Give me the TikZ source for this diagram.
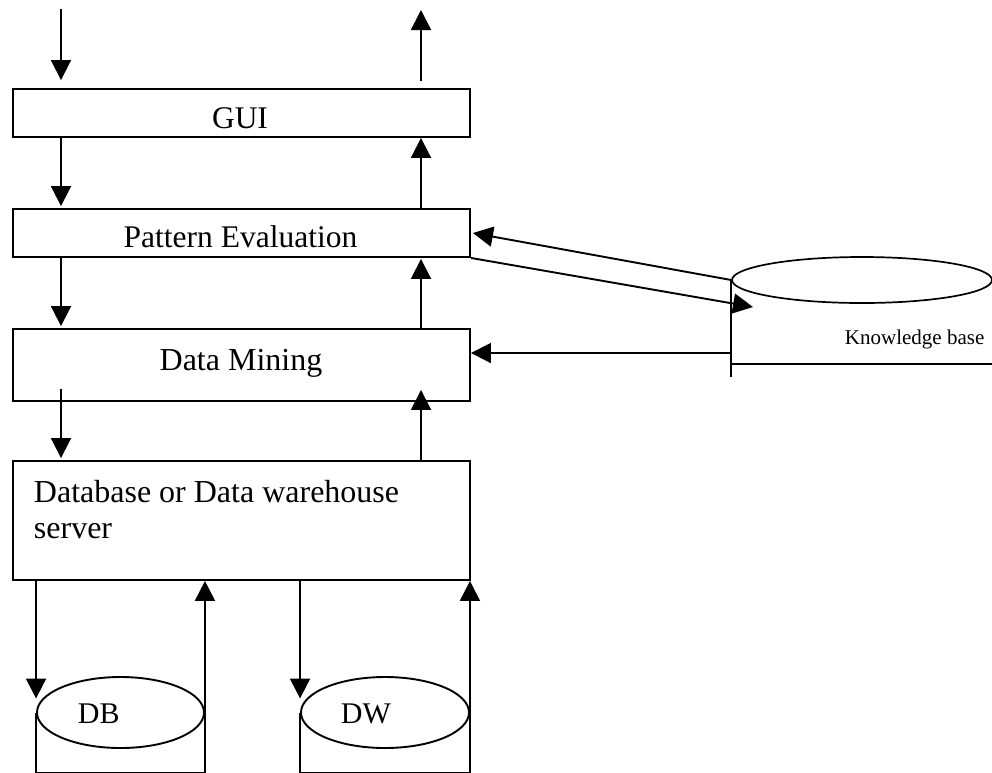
\documentclass[tikz,border=0pt]{standalone}
\usepackage{fontspec}
\setmainfont{Liberation Serif}
\usetikzlibrary{arrows.meta,shapes.geometric,calc}
\begin{document}
\begin{tikzpicture}[x=1pt,y=-1pt,
  line width=1.9pt,
  box/.style={draw,rectangle,inner sep=0pt,minimum width=457pt},
  cyl/.style={draw,ellipse,inner sep=0pt},
  lbl/.style={inner sep=0pt,anchor=base},
  arr/.style={-{Triangle[length=20pt,width=20pt]}},
  bigfont/.style={font=\fontsize{32}{36}\selectfont},
  midfont/.style={font=\fontsize{31.5}{36}\selectfont},
  dbfont/.style={font=\fontsize{30}{34}\selectfont},
  kbfont/.style={font=\fontsize{21}{25}\selectfont}]
\useasboundingbox (0,0) rectangle (992,772);
\fill[white] (0,0) rectangle (992,772);

% boxes
\node[box,minimum height=48pt] (gui) at (241.5,113) {};
\node[box,minimum height=48pt] (pe) at (241.5,233) {};
\node[box,minimum height=72pt] (dm) at (241.5,365) {};
\node[box,minimum height=119pt] (server) at (241.5,520.5) {};

\node[lbl,midfont] (guit) at (240,128) {GUI};
\node[lbl,midfont] (pet) at (240.5,247) {Pattern Evaluation};
\node[lbl,bigfont] (dmt) at (241,370) {Data Mining};
\node[inner sep=0pt,anchor=north west,align=left,bigfont] (servert) at (33,479) {Database or Data warehouse\\server};

% column coordinates
\coordinate (intop) at (61,9);
\coordinate (outtop) at (421,10);

% vertical flow arrows
\draw[arr,shorten >=8pt] (intop) -- (gui.north -| intop);
\draw[arr,shorten <=7pt] (gui.north -| outtop) -- (outtop);
\draw[arr,shorten >=2pt] (gui.south -| intop) -- (pe.north -| intop);
\draw[arr] (pe.north -| outtop) -- (gui.south -| outtop);
\draw[arr,shorten >=2pt] (pe.south -| intop) -- (dm.north -| intop);
\draw[arr,shorten >=1pt] (dm.north -| outtop) -- (pe.south -| outtop);
\draw[arr,shorten <=-13pt,shorten >=2pt] (dm.south -| intop) -- (server.north -| intop);
\draw[arr,shorten >=-12pt] (server.north -| outtop) -- (dm.south -| outtop);

% DB and DW cylinders
\coordinate (bot) at (0,773.2);
\node[cyl,minimum width=167pt,minimum height=71pt] (db) at (120.5,712.5) {};
\node[cyl,minimum width=168pt,minimum height=71pt] (dw) at (385,712.5) {};
\node[lbl,anchor=base west,dbfont] (dbt) at (77,723) {DB};
\node[lbl,anchor=base west,dbfont] (dwt) at (340,723) {DW};

\draw (db.west) -- (db.west |- bot) -- (db.east |- bot) -- (db.east);
\draw (dw.west) -- (dw.west |- bot) -- (dw.east |- bot) -- (dw.east);
\draw[arr,shorten >=14pt] (server.south -| db.west) -- (db.west);
\draw[arr] (db.east) -- (server.south -| db.east);
\draw[arr,shorten >=14pt] (server.south -| dw.west) -- (dw.west);
\draw[arr] (dw.east) -- (server.south -| dw.east);

% Knowledge base cylinder
\node[cyl,line width=1.7pt,minimum width=260pt,minimum height=46pt] (kb) at (862,280) {};
\coordinate (kbbot) at (0,377);
\coordinate (kbr) at (992,364);
\draw (kb.west) -- (kb.west |- kbbot);
\draw (kb.west |- kbr) -- (kbr);
\node[lbl,anchor=base west,kbfont] (kbt) at (844,344) {Knowledge base};

% knowledge base connectors
\coordinate (kbin) at (753,307);
\coordinate (kbdm) at (732,353);
\draw[arr] (kb.west) -- ([xshift=2pt]pe.east);
\draw[arr] (pe.south east) -- (kbin);
\draw[arr] (kbdm) -- (dm.east |- kbdm);
\end{tikzpicture}
\end{document}
